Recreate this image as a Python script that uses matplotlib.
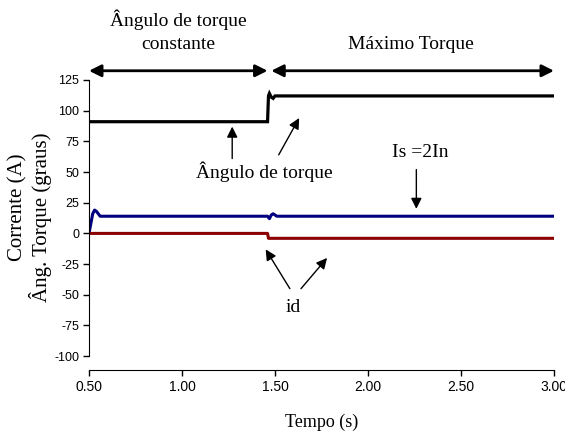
import numpy as np
import matplotlib
matplotlib.use('Agg')
import matplotlib.pyplot as plt

# time (s) / values
t_ang = [0.50, 1.46, 1.465, 1.47, 1.48, 1.49, 1.50, 3.00]
ang = [91, 91, 112, 114, 111, 110, 112, 112]

t_is = [0.50, 0.51, 0.52, 0.53, 0.54, 0.55, 0.56, 0.58, 1.46, 1.47, 1.48, 1.49, 1.50, 1.51, 3.00]
i_s = [0, 8, 16, 19, 18, 16, 14, 14, 14, 12, 15, 16, 15, 14, 14]

t_id = [0.50, 1.46, 1.465, 3.00]
i_d = [0, 0, -4, -4]

yticks = [-100, -75, -50, -25, 0, 25, 50, 75, 100, 125]
xticks = [0.5, 1.0, 1.5, 2.0, 2.5, 3.0]

serif = 'Liberation Serif'
sans = 'Liberation Sans'
plt.rcParams['font.family'] = [sans, 'DejaVu Sans']

fig = plt.figure(figsize=(5.65, 4.37), dpi=100)
ax = fig.add_axes([0.1575, 0.185, 0.823, 0.632])

ax.plot(t_ang, ang, color='black', lw=2.3, solid_joinstyle='miter')
ax.plot(t_is, i_s, color='#000080', lw=2.2)
ax.plot(t_id, i_d, color='#8b0000', lw=2.2)

ax.set_xlim(0.5, 3.0)
ax.set_ylim(-100, 125)
ax.set_yticks(yticks)
ax.set_xticks(xticks)
ax.set_xticklabels(['%.2f' % v for v in xticks], fontfamily=sans, fontsize=9)
ax.set_yticklabels([str(v) for v in yticks], fontfamily=sans, fontsize=9)
ax.spines['top'].set_visible(False)
ax.spines['right'].set_visible(False)
ax.spines['bottom'].set_position(('outward', 10))
ax.tick_params(direction='out', length=4, width=1, pad=3)

ax.set_xlabel('Tempo (s)', fontfamily=serif, fontsize=13, labelpad=14)
fig.text(0.032, 0.525, 'Corrente (A)', rotation=90, ha='center', va='center', fontfamily=serif, fontsize=15)
fig.text(0.072, 0.503, 'Âng. Torque (graus)', rotation=90, ha='center', va='center', fontfamily=serif, fontsize=15)

# region arrows on top
arr = dict(arrowstyle='<|-|>', color='black', lw=2, mutation_scale=18, shrinkA=0, shrinkB=0)
ax.annotate('', xy=(0.50, 132.5), xytext=(1.46, 132.5), arrowprops=arr, annotation_clip=False)
ax.annotate('', xy=(1.48, 132.5), xytext=(3.00, 132.5), arrowprops=arr, annotation_clip=False)
ax.text(0.98, 174, 'Ângulo de torque', ha='center', va='center', fontfamily=serif, fontsize=14)
ax.text(0.98, 153.5, 'constante', ha='center', va='center', fontfamily=serif, fontsize=14)
ax.text(2.23, 153.5, 'Máximo Torque', ha='center', va='center', fontfamily=serif, fontsize=14)

pt = dict(arrowstyle='-|>', color='black', lw=1, mutation_scale=16, shrinkA=0, shrinkB=0)
ax.text(1.44, 50, 'Ângulo de torque', ha='center', va='center', fontfamily=serif, fontsize=14)
ax.annotate('', xy=(1.27, 87), xytext=(1.27, 61), arrowprops=pt)
ax.annotate('', xy=(1.63, 94), xytext=(1.52, 64), arrowprops=pt)

ax.text(2.28, 66, 'Is =2In', ha='center', va='center', fontfamily=serif, fontsize=14)
ax.annotate('', xy=(2.26, 20), xytext=(2.26, 52), arrowprops=pt)

ax.text(1.60, -60, 'id', ha='center', va='center', fontfamily=serif, fontsize=14)
ax.annotate('', xy=(1.45, -13), xytext=(1.58, -45), arrowprops=pt)
ax.annotate('', xy=(1.78, -20), xytext=(1.64, -45), arrowprops=pt)

fig.savefig('out.png', dpi=100)
